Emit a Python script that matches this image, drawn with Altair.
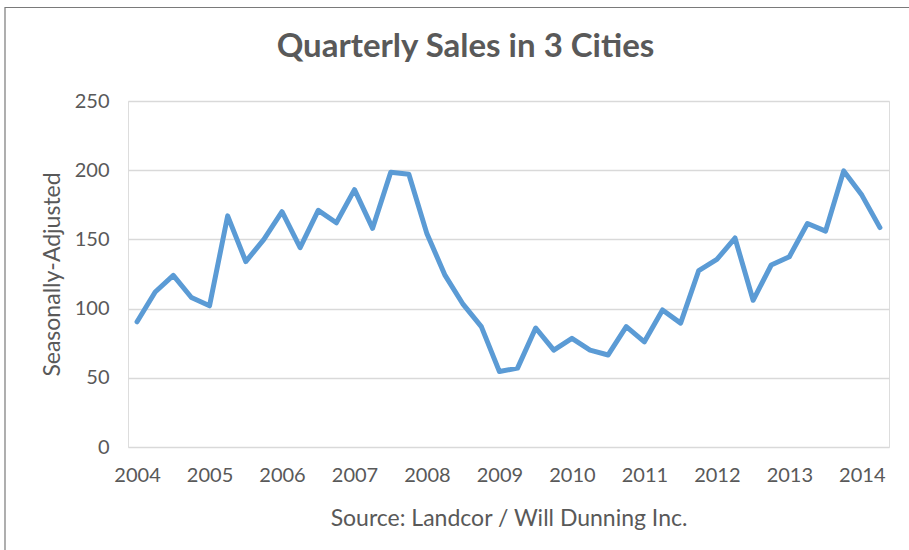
import altair as alt
import pandas as pd

title_text = "Quarterly Sales in 3 Cities"
y_title = "Seasonally-Adjusted"
x_title = "Source: Landcor / Will Dunning Inc."
first_year = 2004
year_ticks = [0, 4, 8, 12, 16, 20, 24, 28, 32, 36, 40]  # quarter index of each Q1 label
y_ticks = [0, 50, 100, 150, 200, 250]

values = [90.5, 112, 124, 108, 102, 167, 134, 150, 170, 144, 171, 162, 186, 158, 198.5,
          197, 154, 124, 103, 87, 54.5, 57, 86, 70, 78.5, 70, 66.5, 87,
          76, 99, 89.5, 127.5, 135.5, 151, 106, 131.5, 137.5, 161.5, 156, 199.5, 182, 158.5]
quarters = list(range(len(values)))

df = pd.DataFrame({"q": quarters, "v": values})

TXT = "#595959"
FONT = "Lato"

line = alt.Chart(df).mark_line(color="#5B9BD5", strokeWidth=5, strokeCap="round", strokeJoin="round").encode(
    x=alt.X("q:Q", scale=alt.Scale(domain=[-0.5, len(values) - 0.5], nice=False, zero=False),
            axis=alt.Axis(values=year_ticks, labelExpr=f"'' + ({first_year} + datum.value / 4)",
                          grid=False, domain=False, ticks=False, tickSize=0, labelPadding=18,
                          labelFontSize=20, labelColor=TXT, labelFont=FONT,
                          title=x_title, titleFontSize=23, titleColor=TXT, titleFont=FONT,
                          titleFontWeight="normal", titleY=78, titleBaseline="alphabetic")),
    y=alt.Y("v:Q", scale=alt.Scale(domain=[0, 250], nice=False),
            axis=alt.Axis(values=y_ticks, grid=True, gridColor="#d9d9d9", gridWidth=1.3,
                          domain=False, ticks=False, tickSize=0, labelPadding=19,
                          labelFontSize=20, labelColor=TXT, labelFont=FONT,
                          title=y_title, titleFontSize=23, titleColor=TXT, titleFont=FONT,
                          titleFontWeight="normal", titleX=-69, titleBaseline="alphabetic")),
)

border = alt.Chart(pd.DataFrame({"a": [0]})).mark_rect(
    fill=None, fillOpacity=0, stroke="#7a7a7a", strokeWidth=1.2
).encode(
    x=alt.value(-123), x2=alt.value(800), y=alt.value(-93.5), y2=alt.value(470)
)

chart = alt.layer(border, line).properties(
    width=761, height=346,
    autosize=alt.AutoSizeParams(type="none"),
    padding={"left": 128, "top": 101, "right": 20, "bottom": 103},
    title=alt.TitleParams(title_text, fontSize=33, font=FONT, fontWeight="bold", color=TXT,
                          anchor="middle", dx=-43, offset=-57),
).configure_view(stroke=None).configure(background="white")

chart.save("out.html", embed_options={"renderer": "svg", "actions": False})
